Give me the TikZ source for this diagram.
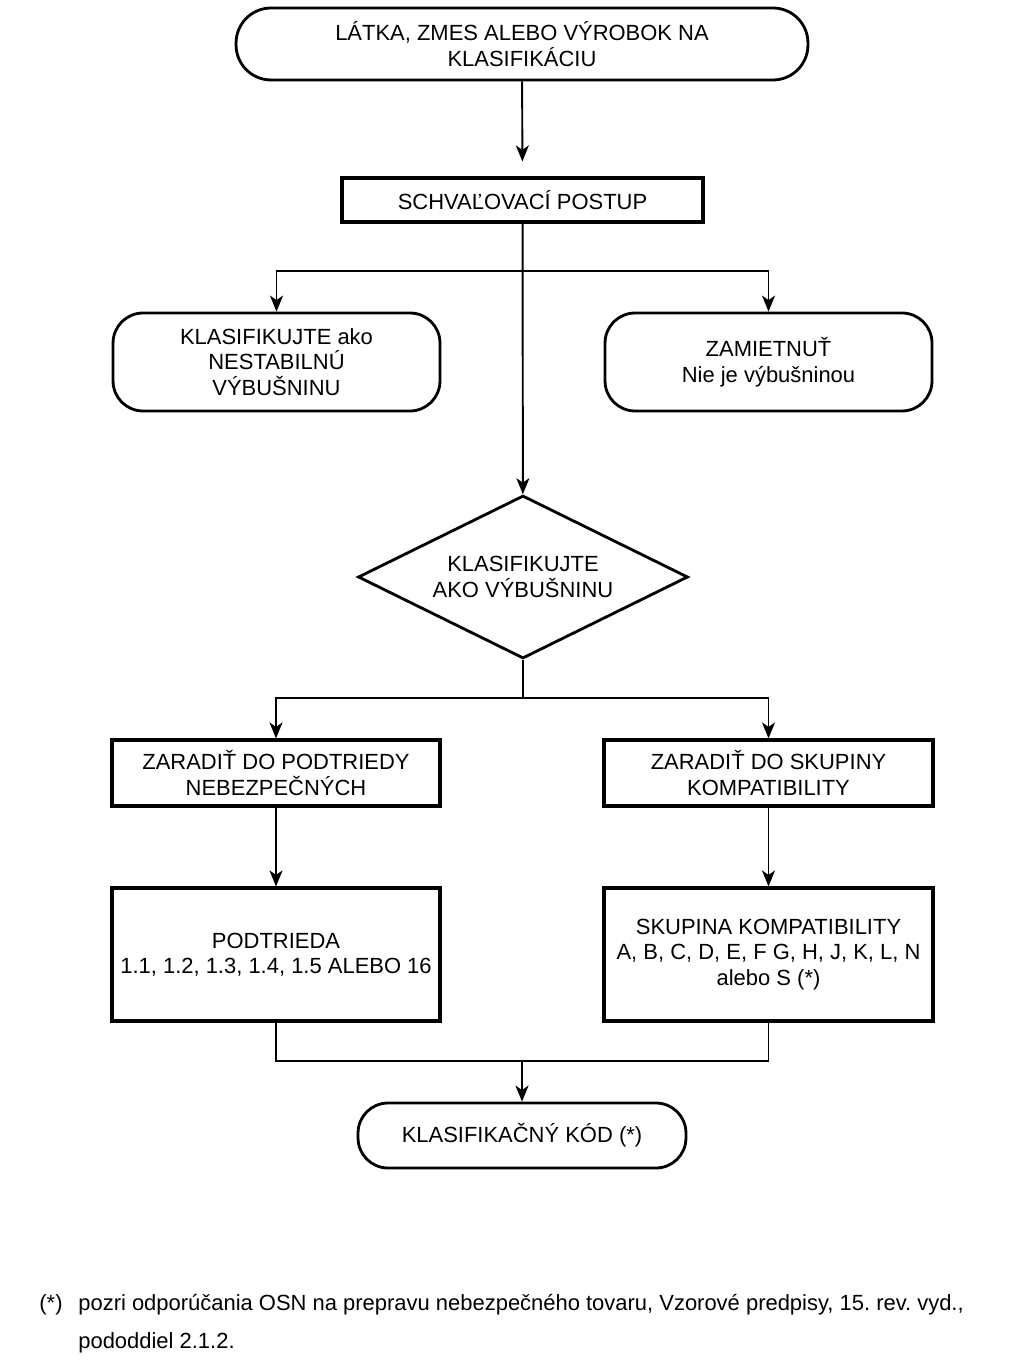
\documentclass[tikz,border=0pt]{standalone}
\usepackage{fontspec}
\setmainfont{Liberation Sans}
\usetikzlibrary{positioning,shapes.geometric,arrows.meta}
\tikzset{
    terminal/.style={draw, line width=1.6pt, rounded corners=0.7cm, align=center, inner sep=0pt},
    stepbox/.style={draw, rectangle, line width=1.8pt, align=center, inner sep=0pt},
    decision/.style={draw, diamond, aspect=2, line width=1.6pt, align=center, inner sep=0pt, minimum width=6.6cm, minimum height=3.26cm},
    arrow/.style={line width=1.1pt, -{Stealth[length=3.2mm, width=2.6mm, inset=0.9mm]}},
    line/.style={line width=1.1pt}
}
\frenchspacing

\begin{document}
\begin{tikzpicture}[x=0.02cm, y=-0.02cm, font=\fontsize{12.5}{14.5}\selectfont]
    \useasboundingbox (0,0) rectangle (1023,1364);

    % Uzly
    \node[terminal, minimum width=11.44cm, minimum height=1.44cm] (start) at (522,44) {LÁTKA, ZMES ALEBO VÝROBOK NA\\KLASIFIKÁCIU};
    \node[stepbox, minimum width=7.22cm, minimum height=0.88cm] (schval) at (522.5,200) {SCHVAĽOVACÍ POSTUP};
    \node[terminal, rounded corners=0.6cm, minimum width=6.54cm, minimum height=1.96cm] (nestab) at (276.5,362) {KLASIFIKUJTE ako\\NESTABILNÚ\\VÝBUŠNINU};
    \node[terminal, rounded corners=0.6cm, minimum width=6.54cm, minimum height=1.96cm] (zamiet) at (768.5,362) {ZAMIETNUŤ\\Nie je výbušninou};
    \node[decision] (vybus) at (523,577) {KLASIFIKUJTE\\AKO VÝBUŠNINU};
    \node[stepbox, minimum width=6.56cm, minimum height=1.32cm] (podtr) at (276,773) {ZARADIŤ DO PODTRIEDY\\NEBEZPEČNÝCH};
    \node[stepbox, minimum width=6.58cm, minimum height=1.32cm] (skup) at (768.5,773) {ZARADIŤ DO SKUPINY\\KOMPATIBILITY};
    \node[stepbox, minimum width=6.56cm, minimum height=2.66cm] (podtrkod) at (276,954.5) {PODTRIEDA\\1.1, 1.2, 1.3, 1.4, 1.5 ALEBO 16};
    \node[stepbox, minimum width=6.58cm, minimum height=2.66cm] (skupkod) at (768.5,954.5) {SKUPINA KOMPATIBILITY\\A, B, C, D, E, F G, H, J, K, L, N\\alebo S (*)};
    \node[terminal, rounded corners=0.6cm, minimum width=6.56cm, minimum height=1.3cm] (kod) at (522,1135.5) {KLASIFIKAČNÝ KÓD (*)};

    % Rozvetvenia
    \coordinate (split1) at (522,271);
    \coordinate (split2) at (523,698);
    \coordinate (join) at (522,1061);

    % Spojnice
    \draw[arrow, shorten >=0.3cm] (start) -- (schval);
    \draw[arrow] (schval) -- (vybus);
    \draw[arrow] (split1) -| (nestab);
    \draw[arrow] (split1) -| (zamiet);
    \draw[line] (vybus) -- (split2);
    \draw[arrow] (split2) -| (podtr);
    \draw[arrow] (split2) -| (skup);
    \draw[arrow] (podtr) -- (podtrkod);
    \draw[arrow] (skup) -- (skupkod);
    \draw[line] (podtrkod.south) |- (join);
    \draw[line] (skupkod.south) |- (join);
    \draw[arrow] (join) -- (kod);

    % Poznamka
    \node (hviezda) at (51,1305) {(*)};
    \node[anchor=west, align=left, inner sep=0pt, font=\fontsize{12.5}{21.6}\selectfont] (pozn) at (78,1324) {pozri odporúčania OSN na prepravu nebezpečného tovaru, Vzorové predpisy, 15. rev. vyd.,\\pododdiel 2.1.2.};
\end{tikzpicture}
\end{document}
